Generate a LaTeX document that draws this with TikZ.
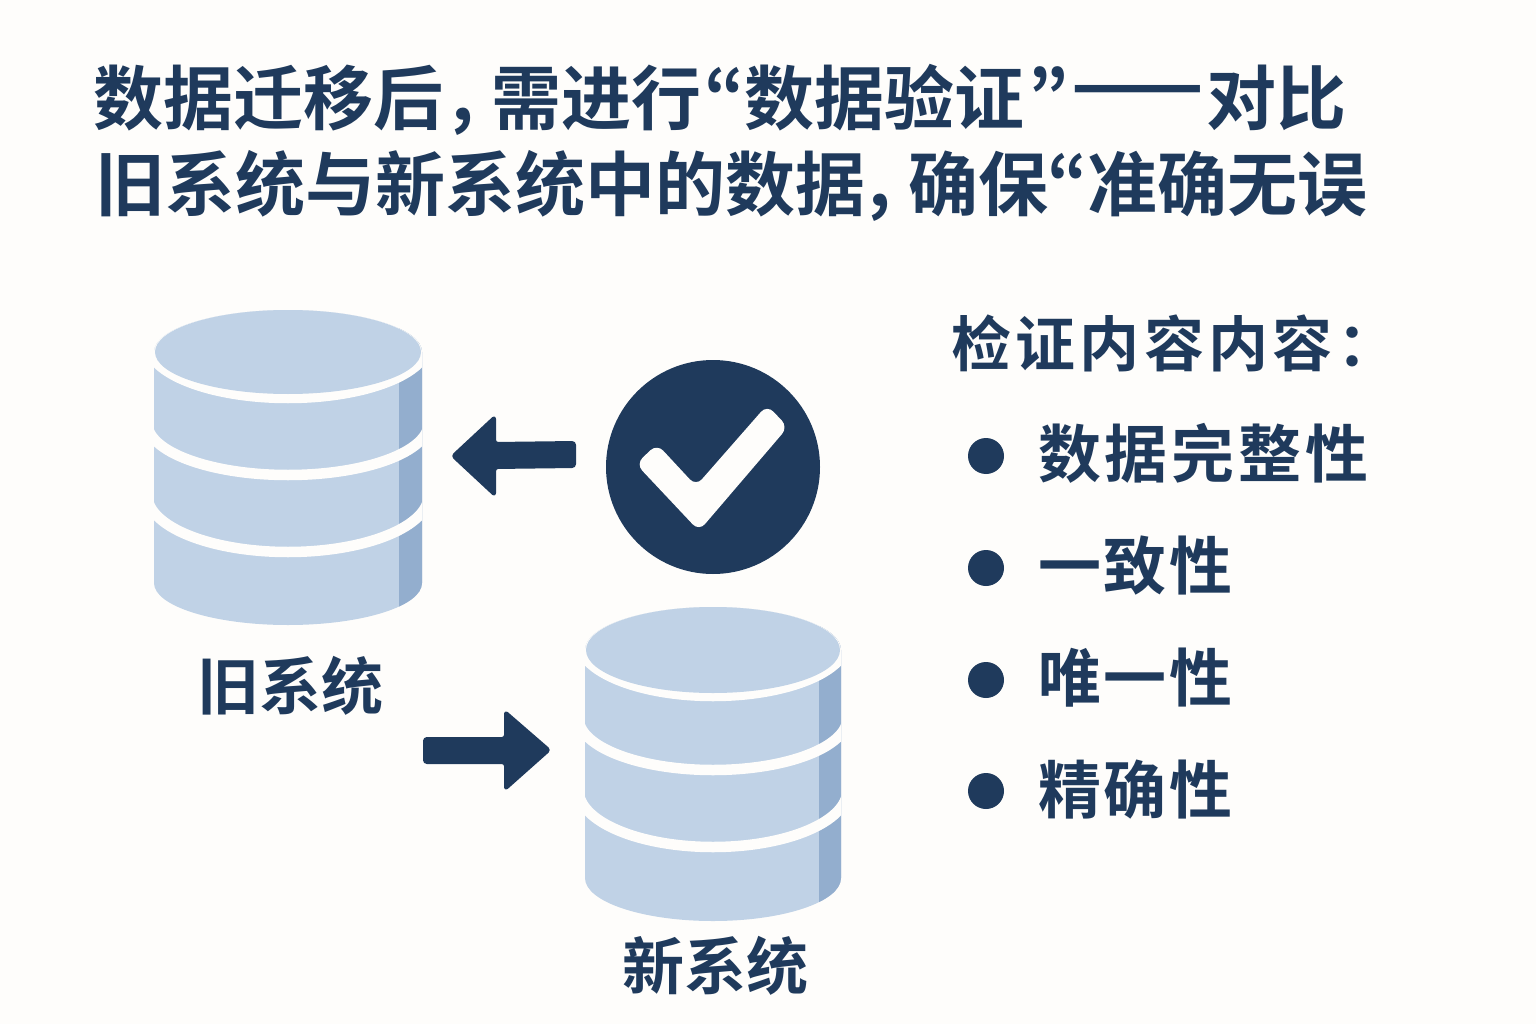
\documentclass[tikz,border=0pt]{standalone}
\usepackage{fontspec}
\newfontfamily\cjk[BoldFont=* Bold]{Noto Sans CJK SC}
\newfontfamily\cjkp[BoldFont=* Bold,RawFeature=+pwid]{Noto Sans CJK SC}
\newfontfamily\cjkh[BoldFont=* Bold,LetterSpace=7.2]{Noto Sans CJK SC}
\newfontfamily\cjki[BoldFont=* Bold,LetterSpace=4.2]{Noto Sans CJK SC}
\newfontfamily\cjkj[BoldFont=* Bold,LetterSpace=6]{Noto Sans CJK SC}
\definecolor{bgc}{HTML}{FEFDFB}
\definecolor{ink}{HTML}{1F3A5C}
\definecolor{lite}{HTML}{C0D2E6}
\definecolor{deep}{HTML}{93AECE}
\tikzset{
  ttl/.style={anchor=west,inner sep=0,text=ink,font=\cjk\bfseries\fontsize{70}{70}\selectfont},
  pun/.style={anchor=west,inner sep=0,text=ink,font=\cjkp\bfseries\fontsize{70}{70}\selectfont},
  lbl/.style={anchor=center,inner sep=0,text=ink,font=\cjk\bfseries\fontsize{62}{62}\selectfont},
  itm/.style={anchor=west,inner sep=0,text=ink,font=\cjki\bfseries\fontsize{63}{63}\selectfont},
  bullet/.style={circle,fill=ink,inner sep=0,minimum size=36pt},
  blockarrow/.style={fill=ink,draw=ink,line width=2pt,line join=round,rounded corners=3pt},
  band/.style={draw=bgc,line width=10.5pt}
}
\newcommand{\qbox}[1]{\makebox[33pt][l]{#1}}
\newcommand{\cyl}[6]{%
 % cx, top ellipse cy, rx, ry, strip width, body height
 \begin{scope}
  \path[clip] (#1-#3,#2) -- (#1-#3,#2+#6) arc[start angle=180,end angle=0,x radius=#3,y radius=#4] -- (#1+#3,#2) arc[start angle=0,end angle=-180,x radius=#3,y radius=#4] -- cycle;
  \fill[lite] (#1-#3-2,#2-50) rectangle (#1+#3+2,#2+290);
  \fill[deep] (#1+#3-#5,#2-50) rectangle (#1+#3+2,#2+290);
  \draw[band] (#1,#2-9) ++(180:#3*1.05 and 55) arc[start angle=180,end angle=0,x radius=#3*1.05,y radius=55];
  \draw[band] (#1,#2+#6-160) ++(180:#3*1.05 and 52) arc[start angle=180,end angle=0,x radius=#3*1.05,y radius=52];
  \draw[band] (#1,#2+#6-88) ++(180:#3*1.05 and 57) arc[start angle=180,end angle=0,x radius=#3*1.05,y radius=57];
  \fill[bgc] (#1,#2) ellipse[x radius=#3+4,y radius=#4+4];
 \end{scope}
 \fill[lite] (#1,#2) ellipse[x radius=#3-1,y radius=#4];
}
\begin{document}
\begin{tikzpicture}[x=1pt,y=-1pt]
\useasboundingbox (0,0) rectangle (1536,1024);
\fill[bgc] (0,0) rectangle (1536,1024);
% title
\node[ttl] (t1a) at (93,98) {数据迁移后};
\node[pun] (t1b) at (451,122) {，};
\node[ttl] (t1c) at (491,98) {需进行};
\node[pun] (t1d) at (704,98) {\qbox{“}};
\node[ttl] (t1e) at (744,98) {数据验证};
\node[pun] (t1f) at (1028,98) {\qbox{”}};
\node[ttl,font=\cjk\bfseries\fontsize{78}{78}\selectfont] (t1g) at (1071,98) {——};
\node[ttl] (t1h) at (1206,98) {对比};
\node[ttl] (t2a) at (95,184) {旧系统与新系统中的数据};
\node[pun] (t2b) at (868,208) {，};
\node[ttl] (t2c) at (908,184) {确保};
\node[pun] (t2d) at (1047,184) {\qbox{“}};
\node[ttl] (t2e) at (1087,184) {准确无误};
% cylinders
\cyl{288}{352}{134}{42}{23}{231}
\cyl{713}{650}{128}{43}{22}{228}
\node[lbl] (old) at (290,686) {旧系统};
\node[lbl] (new) at (715,966) {新系统};
% check
\node[circle,fill=ink,inner sep=0,minimum size=214pt] (chk) at (713,467) {};
\fill[bgc,rounded corners=9pt] (657,444) -- (636,464) -- (699,531) -- (788,427) -- (767,405) -- (696,486) -- cycle;
% arrows
\draw[blockarrow] (575,442) -- (495,443) -- (495,416) -- (452,456) -- (495,496) -- (495,468) -- (575,467) -- cycle;
\draw[blockarrow] (424,738) -- (505,738) -- (505,711) -- (550,750) -- (505,790) -- (505,763) -- (424,763) -- cycle;
% list
\node[anchor=west,inner sep=0,text=ink,font=\cjkh\bfseries\fontsize{60}{60}\selectfont] (h) at (951,343) {检证内容内容：};
\node[bullet] (b1) at (986,456) {};
\node[bullet] (b2) at (986,568) {};
\node[bullet] (b3) at (986,680) {};
\node[bullet] (b4) at (986,791) {};
\node[anchor=west,inner sep=0,text=ink,font=\cjkj\bfseries\fontsize{63}{63}\selectfont] (i1) at (1038,453) {数据完整性};
\node[itm] (i2) at (1038,566) {一致性};
\node[itm] (i3) at (1038,678) {唯一性};
\node[itm] (i4) at (1038,790) {精确性};
\end{tikzpicture}
\end{document}
